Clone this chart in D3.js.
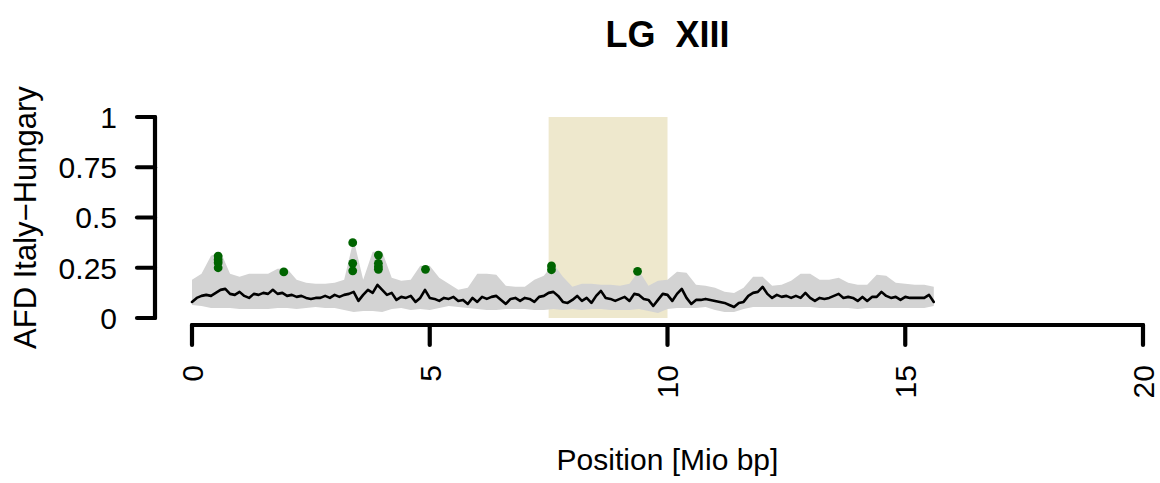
<!DOCTYPE html>
<html>
<head>
<meta charset="utf-8">
<script src="https://cdn.jsdelivr.net/npm/d3@7"></script>
<style>
  body { margin: 0; background: #fff; }
  text { font-family: "Liberation Sans", Arial, sans-serif; fill: #000; }
</style>
</head>
<body>
<svg id="chart"></svg>
<script>
// AFD along the linkage group, sliding windows every 0.1 Mio bp starting at 0
const lineStep = 0.1;
const afdMean = [
  0.08, 0.10, 0.11, 0.115, 0.11, 0.125, 0.14, 0.145, 0.12, 0.115,
  0.13, 0.11, 0.10, 0.12, 0.115, 0.125, 0.12, 0.14, 0.12, 0.125,
  0.11, 0.115, 0.105, 0.11, 0.10, 0.095, 0.10, 0.10, 0.11, 0.10,
  0.115, 0.105, 0.115, 0.12, 0.13, 0.085, 0.115, 0.14, 0.125, 0.165,
  0.14, 0.115, 0.125, 0.09, 0.105, 0.10, 0.11, 0.08, 0.10, 0.14,
  0.10, 0.095, 0.085, 0.10, 0.095, 0.105, 0.085, 0.09, 0.07, 0.10,
  0.08, 0.105, 0.095, 0.105, 0.11, 0.09, 0.07, 0.095, 0.10, 0.085,
  0.10, 0.095, 0.08, 0.105, 0.11, 0.125, 0.13, 0.11, 0.08, 0.075,
  0.09, 0.11, 0.085, 0.10, 0.075, 0.11, 0.135, 0.10, 0.095, 0.085,
  0.095, 0.105, 0.085, 0.12, 0.115, 0.095, 0.09, 0.06, 0.09, 0.12,
  0.115, 0.085, 0.12, 0.145, 0.10, 0.07, 0.09, 0.09, 0.095, 0.09,
  0.085, 0.08, 0.075, 0.065, 0.055, 0.075, 0.08, 0.11, 0.125, 0.13,
  0.155, 0.12, 0.10, 0.115, 0.105, 0.11, 0.10, 0.11, 0.10, 0.125,
  0.10, 0.085, 0.10, 0.095, 0.10, 0.11, 0.12, 0.10, 0.105, 0.10,
  0.085, 0.105, 0.085, 0.105, 0.105, 0.13, 0.11, 0.10, 0.105, 0.09,
  0.105, 0.10, 0.10, 0.10, 0.10, 0.115, 0.08
];

// grey envelope, every 0.2 Mio bp starting at 0
const bandStep = 0.2;
const bandUpper = [
  0.19, 0.22, 0.31, 0.33, 0.22, 0.205, 0.22, 0.22, 0.22, 0.245,
  0.245, 0.19, 0.175, 0.17, 0.17, 0.175, 0.19, 0.39, 0.19, 0.33,
  0.33, 0.20, 0.185, 0.19, 0.26, 0.26, 0.20, 0.17, 0.14, 0.15,
  0.22, 0.22, 0.215, 0.16, 0.155, 0.155, 0.19, 0.21, 0.27, 0.205,
  0.155, 0.17, 0.17, 0.165, 0.165, 0.16, 0.17, 0.235, 0.16, 0.185,
  0.19, 0.23, 0.225, 0.165, 0.16, 0.15, 0.13, 0.125, 0.15, 0.205,
  0.205, 0.16, 0.165, 0.185, 0.22, 0.22, 0.19, 0.19, 0.20, 0.175,
  0.165, 0.165, 0.215, 0.21, 0.175, 0.17, 0.165, 0.165, 0.155
];
const bandLower = [
  0.065, 0.06, 0.05, 0.05, 0.05, 0.045, 0.045, 0.045, 0.045, 0.05,
  0.05, 0.045, 0.05, 0.055, 0.05, 0.05, 0.04, 0.03, 0.035, 0.035,
  0.03, 0.045, 0.05, 0.04, 0.045, 0.04, 0.05, 0.06, 0.055, 0.05,
  0.045, 0.04, 0.04, 0.045, 0.045, 0.045, 0.04, 0.04, 0.045, 0.04,
  0.045, 0.04, 0.045, 0.045, 0.04, 0.04, 0.04, 0.045, 0.035, 0.025,
  0.045, 0.05, 0.05, 0.05, 0.055, 0.04, 0.03, 0.03, 0.045, 0.055,
  0.055, 0.055, 0.055, 0.055, 0.055, 0.055, 0.05, 0.05, 0.05, 0.05,
  0.045, 0.05, 0.05, 0.05, 0.05, 0.05, 0.05, 0.05, 0.06
];

// outlier SNPs (green)
const snpPos = [0.55, 0.55, 0.55, 0.55, 1.93, 3.38, 3.38, 3.38, 3.92, 3.92, 3.92, 3.92, 4.91, 7.56, 7.56, 9.37];
const snpAfd = [0.308, 0.29, 0.275, 0.25, 0.229, 0.375, 0.272, 0.235, 0.313, 0.272, 0.255, 0.242, 0.242, 0.259, 0.24, 0.232];

// highlighted region
const regionStart = 7.5;
const regionEnd = 10;

const xTicks = [0, 5, 10, 15, 20];
const yTicks = [0, 0.25, 0.5, 0.75, 1];
const yTickLabels = ["0", "0.25", "0.5", "0.75", "1"];

const chartTitle = "LG  XIII";
const xTitle = "Position [Mio bp]";
const yTitle = "AFD Italy\u2212Hungary";

const width = 1160, height = 483;

const svg = d3.select("#chart")
  .attr("width", width)
  .attr("height", height);

const x = d3.scaleLinear().domain([0, 20]).range([192, 1143]);
const y = d3.scaleLinear().domain([0, 1]).range([318, 117]);

// highlighted region
svg.append("rect")
  .attr("x", x(regionStart))
  .attr("y", y(1))
  .attr("width", x(regionEnd) - x(regionStart))
  .attr("height", y(0) - y(1))
  .attr("fill", "#EEE8CD");

// envelope
const band = bandUpper.map((u, i) => ({pos: i * bandStep, hi: u, lo: bandLower[i]}));
svg.append("path")
  .datum(band)
  .attr("fill", "#D3D3D3")
  .attr("d", d3.area()
    .x(d => x(d.pos))
    .y0(d => y(d.lo))
    .y1(d => y(d.hi)));

// mean line
const mean = afdMean.map((v, i) => ({pos: i * lineStep, v: v}));
svg.append("path")
  .datum(mean)
  .attr("fill", "none")
  .attr("stroke", "#000")
  .attr("stroke-width", 2.6)
  .attr("stroke-linejoin", "round")
  .attr("stroke-linecap", "round")
  .attr("d", d3.line().x(d => x(d.pos)).y(d => y(d.v)));

// snps
svg.selectAll("circle.snp")
  .data(snpPos)
  .enter()
  .append("circle")
    .attr("class", "snp")
    .attr("cx", d => x(d))
    .attr("cy", (d, i) => y(snpAfd[i]))
    .attr("r", 4.4)
    .attr("fill", "#006400");

// y axis
const yAxis = svg.append("g").attr("transform", "translate(155,0)");
yAxis.append("line")
  .attr("x1", 0).attr("x2", 0)
  .attr("y1", y(0)).attr("y2", y(1))
  .attr("stroke", "#000").attr("stroke-width", 4.2).attr("stroke-linecap", "round");
yAxis.selectAll("line.tick")
  .data(yTicks)
  .enter()
  .append("line")
    .attr("class", "tick")
    .attr("x1", -18).attr("x2", 0)
    .attr("y1", d => y(d)).attr("y2", d => y(d))
    .attr("stroke", "#000").attr("stroke-width", 4.2).attr("stroke-linecap", "round");
yAxis.selectAll("text")
  .data(yTicks)
  .enter()
  .append("text")
    .attr("x", -38)
    .attr("y", d => y(d))
    .attr("dy", "0.36em")
    .attr("text-anchor", "end")
    .attr("font-size", "30px")
    .text((d, i) => yTickLabels[i]);

// x axis
const xAxisY = 325;
const xAxis = svg.append("g").attr("transform", `translate(0,${xAxisY})`);
xAxis.append("line")
  .attr("x1", x(0)).attr("x2", x(20))
  .attr("y1", 0).attr("y2", 0)
  .attr("stroke", "#000").attr("stroke-width", 4.2).attr("stroke-linecap", "round");
xAxis.selectAll("line.tick")
  .data(xTicks)
  .enter()
  .append("line")
    .attr("class", "tick")
    .attr("x1", d => x(d)).attr("x2", d => x(d))
    .attr("y1", 0).attr("y2", 20)
    .attr("stroke", "#000").attr("stroke-width", 4.2).attr("stroke-linecap", "round");
xAxis.selectAll("text")
  .data(xTicks)
  .enter()
  .append("text")
    .attr("transform", d => `translate(${x(d)},40) rotate(-90)`)
    .attr("dy", "0.36em")
    .attr("text-anchor", "end")
    .attr("font-size", "30px")
    .text(d => d);

// titles
svg.append("text")
  .attr("x", (x(0) + x(20)) / 2)
  .attr("y", 47)
  .attr("text-anchor", "middle")
  .attr("font-size", "36px")
  .attr("font-weight", "bold")
  .style("white-space", "pre")
  .text(chartTitle);

svg.append("text")
  .attr("x", (x(0) + x(20)) / 2)
  .attr("y", 470)
  .attr("text-anchor", "middle")
  .attr("font-size", "30px")
  .text(xTitle);

svg.append("text")
  .attr("transform", `translate(36,${(y(0) + y(1)) / 2}) rotate(-90)`)
  .attr("text-anchor", "middle")
  .attr("font-size", "31px")
  .text(yTitle);
</script>
</body>
</html>
